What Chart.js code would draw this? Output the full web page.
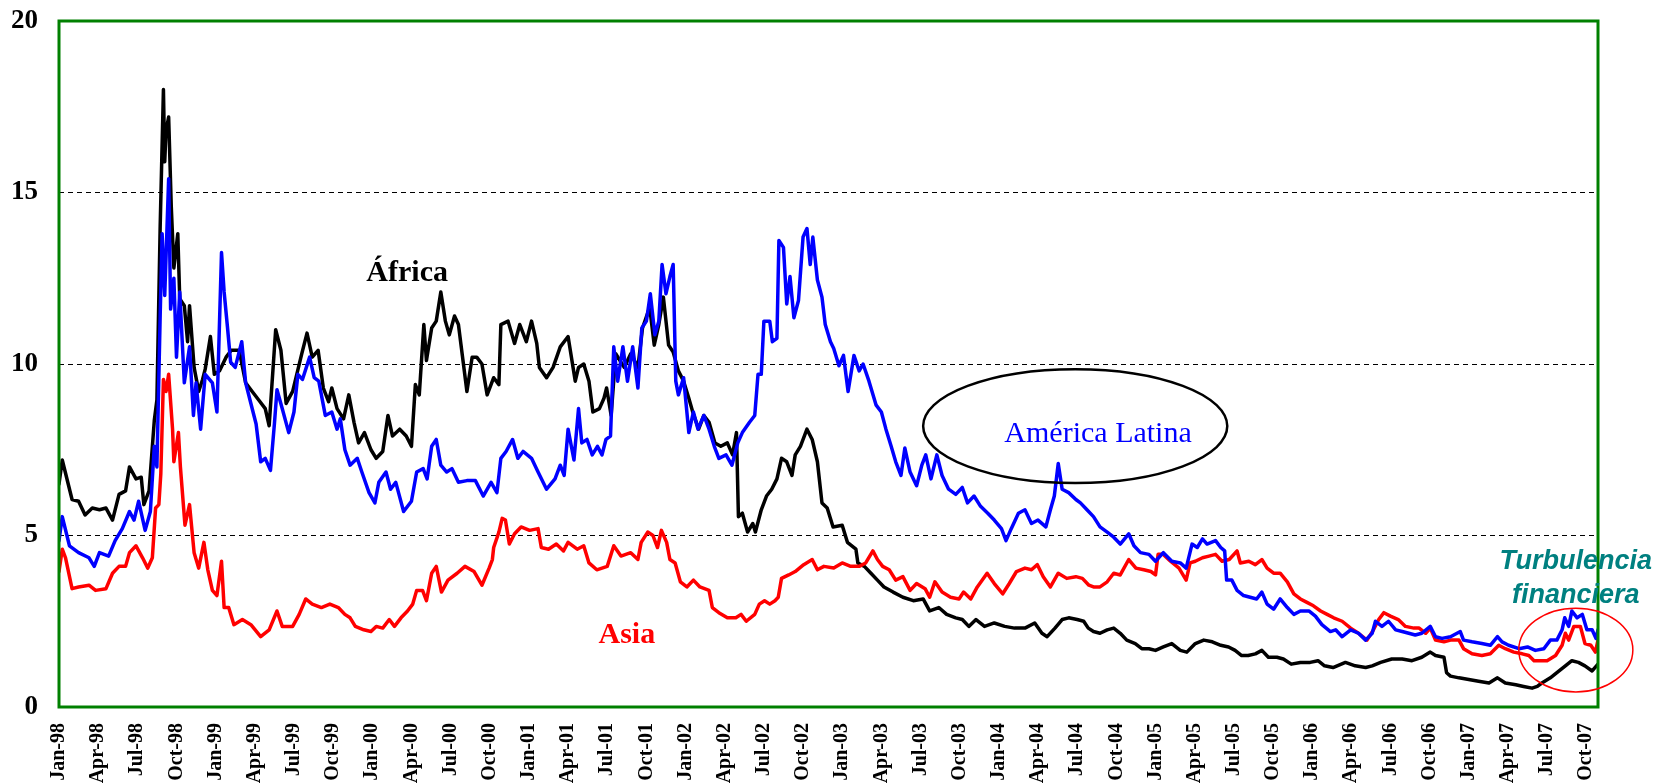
<!DOCTYPE html>
<html>
<head>
<meta charset="utf-8">
<script src="https://cdn.jsdelivr.net/npm/chart.js@4.4.1/dist/chart.umd.min.js"></script>
<style>
  html, body { margin: 0; padding: 0; background: #fff; }
  #wrap { width: 1656px; height: 784px; }
</style>
</head>
<body>
<div id="wrap"><canvas id="c" width="1656" height="784"></canvas></div>
<script>
// Quarterly tick labels (x = months since Jan-98)
const tickLabels = [
  "Jan-98","Apr-98","Jul-98","Oct-98","Jan-99","Apr-99","Jul-99","Oct-99",
  "Jan-00","Apr-00","Jul-00","Oct-00","Jan-01","Apr-01","Jul-01","Oct-01",
  "Jan-02","Apr-02","Jul-02","Oct-02","Jan-03","Apr-03","Jul-03","Oct-03",
  "Jan-04","Apr-04","Jul-04","Oct-04","Jan-05","Apr-05","Jul-05","Oct-05",
  "Jan-06","Apr-06","Jul-06","Oct-06","Jan-07","Apr-07","Jul-07","Oct-07"
];
const yTicks = [0, 5, 10, 15, 20];

// África (black)
const africaMonths = [0,0.25,1.0,1.5,2.0,2.55,3.1,3.6,4.1,4.6,5.1,5.4,5.9,6.3,6.5,6.9,7.3,7.5,7.75,8.0,8.1,8.2,8.4,8.6,8.8,9.1,9.25,9.6,9.85,10.0,10.35,10.7,11.0,11.2,11.6,11.9,12.3,12.8,13.2,13.8,14.3,14.8,15.3,15.8,16.1,16.6,17.0,17.4,17.9,18.6,19.0,19.4,
  19.85,20.25,20.65,20.9,21.3,21.8,22.2,22.6,22.95,23.4,23.9,24.3,24.8,25.2,25.55,26.1,26.6,27.0,27.3,27.6,27.95,28.15,28.55,28.9,29.25,29.6,29.9,30.3,30.6,30.9,31.25,31.65,32.0,32.4,32.8,33.3,33.7,33.85,34.4,34.9,35.3,35.8,36.2,36.6,36.8,37.35,37.85,38.4,39.0,
  39.55,39.8,40.2,40.6,40.9,41.4,41.75,41.95,42.3,42.65,43.3,43.8,44.35,44.7,45.25,45.6,45.95,46.3,46.7,47.05,47.45,47.85,48.25,48.55,49.0,49.4,49.8,50.25,50.7,51.2,51.6,51.9,52.05,52.35,52.75,53.15,53.35,53.8,54.2,54.6,55.0,55.35,55.75,56.15,56.4,56.8,57.3,57.7,58.1,58.45,58.85,59.3,
  60.0,60.4,61.05,61.2,61.7,62.2,62.7,63.2,63.9,64.65,65.45,66.2,66.7,67.4,68.0,68.7,69.2,69.7,70.25,70.9,71.65,72.45,73.2,74.0,74.75,75.3,75.7,76.3,76.85,77.35,78.0,
  78.5,78.85,79.25,79.75,80.3,80.8,81.3,81.8,82.45,82.95,83.5,84.0,84.6,85.25,85.9,86.4,87.05,87.7,88.35,89.0,89.6,90.1,90.6,91.1,91.65,92.15,92.65,93.3,93.8,94.4,95.1,95.85,96.45,96.95,97.6,
  98.55,99.3,100.1,100.6,101.25,102.1,102.9,103.65,104.4,105.05,105.45,106.1,106.3,106.6,107.25,108.0,108.75,109.55,110.2,110.8,111.6,112.2,112.85,113.25,113.6,114.25,114.75,115.4,115.9,116.4,116.9,117.45,117.9];
const africaValues = [6.5,7.2,6.05,6.0,5.6,5.8,5.75,5.8,5.45,6.2,6.3,7.0,6.65,6.7,5.9,6.3,8.35,8.95,14.0,18.0,15.9,16.8,17.2,14.6,12.8,13.8,11.9,11.7,10.65,11.7,9.9,9.2,9.55,9.85,10.8,9.7,9.8,10.2,10.4,10.4,9.45,9.2,8.95,8.7,8.2,11.0,10.4,8.85,9.2,10.3,10.9,10.2,
  10.4,9.3,8.9,9.3,8.7,8.4,9.1,8.3,7.7,8.0,7.5,7.25,7.45,8.5,7.9,8.1,7.9,7.6,9.4,9.1,11.15,10.1,11.05,11.25,12.1,11.25,10.85,11.4,11.15,10.25,9.2,10.2,10.2,10.0,9.1,9.6,9.4,11.15,11.25,10.6,11.15,10.65,11.25,10.6,9.9,9.6,9.9,10.5,10.8,
  9.5,9.9,10.0,9.5,8.6,8.7,9.0,9.3,8.5,10.3,9.9,10.3,9.9,11.05,11.65,10.55,11.15,11.95,10.55,10.35,9.8,9.5,9.0,8.6,8.1,8.5,8.3,7.7,7.6,7.7,7.35,8.0,5.55,5.65,5.1,5.35,5.1,5.75,6.15,6.35,6.65,7.25,7.15,6.75,7.35,7.6,8.1,7.8,7.15,5.95,5.8,5.25,
  5.3,4.8,4.6,4.2,4.1,3.9,3.7,3.5,3.35,3.2,3.1,3.15,2.8,2.9,2.7,2.6,2.55,2.35,2.55,2.35,2.45,2.35,2.3,2.3,2.45,2.15,2.05,2.3,2.55,2.6,2.55,
  2.5,2.3,2.2,2.15,2.25,2.3,2.15,1.95,1.85,1.7,1.7,1.65,1.75,1.85,1.65,1.6,1.85,1.95,1.9,1.8,1.75,1.65,1.5,1.5,1.55,1.65,1.45,1.45,1.4,1.25,1.3,1.3,1.35,1.2,1.15,
  1.3,1.2,1.15,1.2,1.3,1.4,1.4,1.35,1.45,1.6,1.5,1.45,1.0,0.9,0.85,0.8,0.75,0.7,0.85,0.7,0.65,0.6,0.55,0.6,0.7,0.85,1.0,1.2,1.35,1.3,1.2,1.05,1.25];

// América Latina (blue)
const latamMonths = [0,0.25,0.8,1.5,2.3,2.7,3.1,3.8,4.3,4.85,5.4,5.75,6.1,6.6,7.0,7.3,7.5,7.75,7.9,8.1,8.4,8.55,8.8,9.0,9.25,9.6,10.0,10.3,10.5,10.85,11.2,11.75,12.1,12.45,12.65,12.9,13.15,13.5,14.0,14.3,14.7,15.1,15.45,15.8,16.2,16.5,16.7,17.1,17.6,18.0,18.3,18.65,19.2,19.55,
  19.9,20.4,20.9,21.3,21.55,21.9,22.3,22.85,23.2,23.75,24.2,24.5,25.05,25.4,25.8,26.4,27.0,27.4,27.9,28.2,28.55,28.9,29.25,29.7,30.1,30.6,31.25,31.9,32.5,33.1,33.55,33.85,34.25,34.75,35.15,35.55,36.2,36.7,37.35,38.0,38.4,38.7,39.0,39.45,39.8,
  40.05,40.45,40.85,41.25,41.6,41.9,42.25,42.5,42.8,43.2,43.55,43.95,44.35,44.65,45.0,45.3,45.65,45.95,46.2,46.5,46.8,47.05,47.25,47.45,47.85,48.25,48.6,48.95,49.4,49.8,50.2,50.55,51.1,51.55,52.0,52.35,52.9,53.3,53.55,53.8,54.0,54.45,54.65,55.0,55.15,55.5,55.75,56.0,56.3,56.65,57.0,57.3,57.55,57.75,58.1,58.45,
  58.7,59.1,59.35,59.75,60.1,60.45,60.9,61.3,61.6,62.05,62.6,63.0,63.35,63.75,64.1,64.5,64.8,65.2,65.7,66.1,66.4,66.8,67.25,67.65,68.15,68.7,69.2,69.6,70.1,70.6,71.15,71.65,72.2,72.55,72.95,73.5,74.0,74.5,75.0,75.6,75.95,76.25,76.55,76.85,77.35,77.9,
  78.25,78.75,79.25,79.75,80.3,80.8,81.3,81.95,82.35,82.85,83.5,84.0,84.6,85.25,85.9,86.35,86.8,87.2,87.6,87.95,88.6,89.0,89.3,89.45,89.85,90.25,90.75,91.25,91.75,92.15,92.55,93.05,93.55,94.1,94.6,95.1,95.75,96.25,96.75,97.4,
  97.8,98.3,98.95,99.55,100.1,100.6,100.85,101.35,101.85,102.4,102.9,103.4,103.9,104.4,105.05,105.45,105.95,106.6,107.35,107.6,108.25,109.0,109.65,110.2,110.55,111.05,111.85,112.5,113.1,113.75,114.25,114.75,115.15,115.35,115.65,115.9,116.3,116.7,117.05,117.45,117.75,117.9];
const latamValues = [4.85,5.55,4.7,4.5,4.35,4.1,4.5,4.4,4.85,5.2,5.7,5.45,6.0,5.15,5.7,7.6,7.0,11.4,13.8,12.0,15.4,11.6,12.5,10.2,12.1,9.45,10.5,8.5,9.45,8.1,9.7,9.45,8.6,13.25,12.1,11.1,10.05,9.9,10.65,9.45,8.85,8.25,7.15,7.25,6.9,8.25,9.25,8.7,8.0,8.6,9.7,9.55,10.2,9.6,
  9.5,8.5,8.6,8.1,8.4,7.5,7.05,7.25,6.85,6.25,5.95,6.55,6.85,6.35,6.55,5.7,6.0,6.85,6.95,6.65,7.6,7.8,7.05,6.85,6.95,6.55,6.6,6.6,6.15,6.55,6.25,7.25,7.45,7.8,7.25,7.45,7.25,6.85,6.35,6.65,7.05,6.75,8.1,7.2,8.7,
  7.7,7.8,7.35,7.6,7.35,7.8,7.9,10.5,9.5,10.5,9.5,10.5,9.3,11.05,11.25,12.05,10.85,11.25,12.9,12.05,12.55,12.9,9.5,9.1,9.6,8.0,8.6,8.1,8.5,8.1,7.6,7.25,7.35,7.05,7.7,8.0,8.3,8.5,9.7,9.7,11.25,11.25,10.65,10.75,13.6,13.4,11.75,12.55,11.35,11.85,13.7,13.95,12.9,13.7,12.45,11.95,
  11.15,10.65,10.45,9.95,10.25,9.2,10.25,9.8,10.0,9.5,8.8,8.6,8.1,7.6,7.15,6.75,7.55,6.85,6.45,7.05,7.35,6.65,7.35,6.75,6.35,6.2,6.4,5.95,6.15,5.85,5.65,5.45,5.2,4.85,5.2,5.65,5.75,5.35,5.45,5.25,5.75,6.15,7.1,6.35,6.25,6.05,
  5.95,5.75,5.55,5.25,5.1,4.95,4.75,5.05,4.7,4.5,4.45,4.25,4.5,4.25,4.2,4.05,4.75,4.65,4.9,4.75,4.85,4.65,4.55,3.7,3.7,3.4,3.25,3.2,3.15,3.35,3.0,2.85,3.15,2.9,2.7,2.8,2.8,2.65,2.4,2.2,
  2.25,2.05,2.25,2.15,1.95,2.15,2.5,2.35,2.5,2.25,2.2,2.15,2.1,2.15,2.35,2.05,2.0,2.05,2.2,1.95,1.9,1.85,1.8,2.05,1.9,1.8,1.7,1.75,1.65,1.7,1.95,1.95,2.25,2.6,2.35,2.8,2.6,2.7,2.25,2.25,2.0,2.25];

// Asia (red)
const asiaMonths = [0,0.25,0.5,1.0,1.5,2.3,2.8,3.6,4.1,4.6,5.1,5.4,5.9,6.4,6.8,7.15,7.4,7.65,7.8,8.0,8.2,8.4,8.7,8.8,9.15,9.3,9.65,10.0,10.35,10.7,11.1,11.4,11.75,12.1,12.45,12.65,13.0,13.4,14.05,14.7,15.45,16.1,16.7,17.1,17.9,18.4,18.9,19.4,
  20.1,20.75,21.4,21.9,22.3,22.7,23.35,23.9,24.3,24.8,25.3,25.7,26.2,26.7,27.1,27.4,27.85,28.15,28.55,28.9,29.3,29.8,30.5,31.1,31.8,32.4,32.95,33.2,33.3,33.7,33.95,34.2,34.5,34.9,35.4,36.05,36.7,36.95,37.5,38.1,38.65,39.0,
  39.7,40.2,40.6,41.2,42.0,42.5,43.05,43.8,44.35,44.6,45.1,45.5,45.85,46.15,46.55,46.8,47.2,47.6,48.1,48.6,49.1,49.8,50.05,50.55,51.2,51.85,52.25,52.65,53.3,53.65,54.05,54.45,54.85,55.1,55.35,55.9,56.4,57.05,57.7,58.1,58.6,
  59.35,60.0,60.65,61.3,61.8,62.35,62.7,63.1,63.6,64.1,64.65,65.2,65.7,66.35,66.7,67.1,67.65,68.3,68.95,69.3,69.85,70.35,71.1,71.65,72.3,72.8,73.35,74.0,74.5,74.95,75.4,75.95,76.55,77.2,77.9,78.4,78.9,
  79.25,79.75,80.3,80.8,81.3,81.95,82.5,83.1,83.65,84.0,84.2,84.6,85.15,85.8,86.35,86.65,87.05,87.6,88.1,88.6,89.1,89.65,90.25,90.5,91.15,91.65,92.15,92.55,93.05,93.55,94.1,94.6,95.1,95.6,96.1,96.65,97.15,97.65,
  98.3,98.95,99.55,100.2,100.7,101.1,101.5,102.0,102.6,103.15,103.8,104.2,104.7,105.05,105.45,106.1,106.6,107.25,107.6,108.25,109.0,109.65,110.3,110.8,111.45,112.1,112.6,113.0,113.5,114.0,114.65,115.15,115.4,115.65,116.05,116.55,116.9,117.35,117.7,117.9];
const asiaValues = [3.95,4.6,4.35,3.45,3.5,3.55,3.4,3.45,3.9,4.1,4.1,4.5,4.7,4.35,4.05,4.35,5.8,5.9,6.8,9.55,9.2,9.7,8.1,7.15,8.0,7.0,5.3,5.9,4.5,4.05,4.8,4.0,3.4,3.25,4.25,2.9,2.9,2.4,2.55,2.4,2.05,2.25,2.8,2.35,2.35,2.7,3.15,3.0,
  2.9,3.0,2.9,2.7,2.6,2.35,2.25,2.2,2.35,2.3,2.55,2.35,2.6,2.8,3.0,3.4,3.4,3.1,3.9,4.1,3.35,3.7,3.9,4.1,3.95,3.55,4.05,4.3,4.65,5.1,5.5,5.45,4.75,5.05,5.25,5.15,5.2,4.65,4.6,4.75,4.55,4.8,
  4.6,4.7,4.2,4.0,4.1,4.7,4.4,4.5,4.3,4.8,5.1,5.0,4.65,5.15,4.8,4.3,4.2,3.65,3.5,3.7,3.5,3.4,2.9,2.75,2.6,2.6,2.7,2.5,2.7,3.0,3.1,3.0,3.1,3.2,3.75,3.85,3.95,4.15,4.3,4.0,4.1,
  4.05,4.2,4.1,4.1,4.2,4.55,4.3,4.1,4.0,3.7,3.8,3.4,3.6,3.45,3.2,3.65,3.35,3.2,3.15,3.35,3.15,3.5,3.9,3.6,3.3,3.6,3.95,4.05,4.0,4.15,3.8,3.5,3.9,3.75,3.8,3.75,3.55,
  3.5,3.5,3.65,3.9,3.85,4.3,4.05,4.0,3.95,3.85,4.45,4.45,4.25,4.05,3.7,4.2,4.25,4.35,4.4,4.45,4.25,4.3,4.55,4.2,4.25,4.15,4.3,4.05,3.9,3.9,3.65,3.3,3.15,3.05,2.95,2.8,2.7,2.6,
  2.5,2.3,2.15,1.95,2.25,2.55,2.75,2.65,2.55,2.35,2.3,2.3,2.15,2.3,1.95,1.9,1.95,1.95,1.7,1.55,1.5,1.55,1.8,1.7,1.6,1.55,1.5,1.35,1.35,1.35,1.5,1.8,2.15,1.95,2.35,2.35,1.85,1.8,1.6,1.95];

function toPoints(xs, ys) { return xs.map((x, i) => ({ x: x, y: ys[i] })); }

const annotationPlugin = {
  id: 'annotations',
  afterDatasetsDraw(chart) {
    const ctx = chart.ctx;
    const xs = chart.scales.x, ys = chart.scales.y;
    const X = v => xs.getPixelForValue(v), Y = v => ys.getPixelForValue(v);
    const a = chart.chartArea;
    ctx.save();
    // green frame
    ctx.strokeStyle = '#008000';
    ctx.lineWidth = 3;
    ctx.strokeRect(a.left, a.top, a.right - a.left, a.bottom - a.top);

    // texts
    ctx.textAlign = 'center';
    ctx.textBaseline = 'alphabetic';
    ctx.fillStyle = '#000';
    ctx.font = 'bold 30px "Liberation Serif", "Times New Roman", serif';
    ctx.fillText('África', X(26.67), Y(12.42));
    ctx.fillStyle = '#FF0000';
    ctx.font = 'bold 30px "Liberation Serif", "Times New Roman", serif';
    ctx.fillText('Asia', X(43.5), Y(1.87));
    ctx.fillStyle = '#0000FF';
    ctx.font = '30px "Liberation Serif", "Times New Roman", serif';
    ctx.fillText('América Latina', X(79.6), Y(7.74));

    // black ellipse
    ctx.strokeStyle = '#000';
    ctx.lineWidth = 2.5;
    ctx.beginPath();
    const cx1 = X(77.85), cy1 = Y(8.19);
    ctx.ellipse(cx1, cy1, X(77.85 + 11.65) - cx1, cy1 - Y(8.19 + 1.66), 0, 0, Math.PI * 2);
    ctx.stroke();

    // Turbulencia financiera
    ctx.fillStyle = '#008080';
    ctx.font = 'italic bold 27px "Liberation Sans", Arial, sans-serif';
    ctx.fillText('Turbulencia', X(116.2), Y(4.02));
    ctx.fillText('financiera', X(116.2), Y(3.03));

    // red ellipse
    ctx.strokeStyle = '#FF0000';
    ctx.lineWidth = 1.5;
    ctx.beginPath();
    const cx2 = X(116.2), cy2 = Y(1.66);
    ctx.ellipse(cx2, cy2, X(116.2 + 4.37) - cx2, cy2 - Y(1.66 + 1.22), 0, 0, Math.PI * 2);
    ctx.stroke();
    ctx.restore();
  }
};

const lineStyle = { borderWidth: 3.5, pointRadius: 0, tension: 0, fill: false, borderJoinStyle: 'round', borderCapStyle: 'round' };

new Chart(document.getElementById('c'), {
  type: 'line',
  data: {
    datasets: [
      Object.assign({ label: 'América Latina', data: toPoints(latamMonths, latamValues), borderColor: '#0000FF', order: 1 }, lineStyle),
      Object.assign({ label: 'Asia', data: toPoints(asiaMonths, asiaValues), borderColor: '#FF0000', order: 2 }, lineStyle),
      Object.assign({ label: 'África', data: toPoints(africaMonths, africaValues), borderColor: '#000000', order: 3 }, lineStyle)
    ]
  },
  options: {
    responsive: false,
    animation: false,
    devicePixelRatio: 1,
    parsing: false,
    layout: { padding: { top: 21, right: 58, left: 0, bottom: 0 } },
    plugins: { legend: { display: false }, tooltip: { enabled: false } },
    scales: {
      x: {
        type: 'linear',
        min: 0,
        max: 117.9,
        afterFit(s) { s.height = 77; s.paddingLeft = 0; s.paddingRight = 0; },
        grid: { display: false, drawTicks: false },
        border: { display: false },
        ticks: {
          stepSize: 3,
          includeBounds: false,
          autoSkip: false,
          maxRotation: 90,
          minRotation: 90,
          padding: 16,
          color: '#000',
          font: { family: '"Liberation Serif", "Times New Roman", serif', size: 20, weight: 'bold' },
          callback: v => (Math.abs(v / 3 - Math.round(v / 3)) < 1e-6 ? tickLabels[Math.round(v / 3)] : '')
        }
      },
      y: {
        min: yTicks[0],
        max: yTicks[yTicks.length - 1],
        afterFit(s) { s.width = 59; s.paddingTop = 0; s.paddingBottom = 0; },
        afterBuildTicks(s) { s.ticks = yTicks.map(v => ({ value: v })); },
        grid: {
          drawTicks: false,
          lineWidth: 1,
          color: c => (c.tick && c.tick.value > yTicks[0] && c.tick.value < yTicks[yTicks.length - 1]) ? '#000' : 'rgba(0,0,0,0)'
        },
        border: { display: false, dash: [5, 4] },
        ticks: {
          padding: 21,
          color: '#000',
          font: { family: '"Liberation Serif", "Times New Roman", serif', size: 27, weight: 'bold' }
        }
      }
    }
  },
  plugins: [annotationPlugin]
});
</script>
</body>
</html>
